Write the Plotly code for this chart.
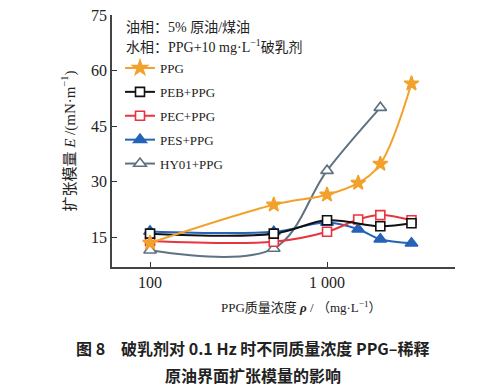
import plotly.graph_objects as go

# ---- data ----
x_ppg = [100, 500, 1000, 1500, 2000, 3000]
y_ppg = [13.5, 23.8, 26.5, 29.7, 34.8, 56.5]

x_peb = [100, 500, 1000, 2000, 3000]
y_peb = [16.0, 16.0, 19.6, 18.0, 18.8]

x_pec = [100, 500, 1000, 1500, 2000, 3000]
y_pec = [14.0, 13.8, 16.5, 19.8, 21.0, 19.6]

x_pes = [100, 500, 1000, 1500, 2000, 3000]
y_pes = [16.6, 16.5, 19.0, 17.2, 14.5, 13.4]

x_hy = [100, 500, 1000, 2000]
y_hy = [11.5, 12.0, 33.0, 50.0]

x_tickvals = [100, 1000]
x_ticktext = ["100", "1 000"]
y_tickvals = [15, 30, 45, 60, 75]

FONT = "Liberation Serif, Noto Sans CJK SC, serif"
CJK = "Noto Sans CJK SC, Liberation Serif"

# plot area in pixels
W, H = 491, 388
L, R, T, B = 112, 455, 15, 267


def px(x):
    return (x - L) / (R - L)


def py(y):
    return (B - y) / (B - T)


fig = go.Figure()

# drawing order (bottom first); legendrank keeps the legend order
series = [
    ("HY01+PPG", x_hy, y_hy, "#5E7282", "triangle-up", 11, "white", 1.0, 5),
    ("PES+PPG", x_pes, y_pes, "#2563B8", "triangle-up", 11, "#2563B8", 1.0, 4),
    ("PEC+PPG", x_pec, y_pec, "#E8343F", "square", 9, "white", 1.0, 3),
    ("PEB+PPG", x_peb, y_peb, "#111111", "square", 9, "white", 1.0, 2),
    ("PPG", x_ppg, y_ppg, "#F2A12B", "star", 11, "#F2A12B", 1.0, 1),
]

for name, xs, ys, col, sym, sz, fill, sm, rank in series:
    fig.add_trace(go.Scatter(
        x=xs, y=ys, name=name, mode="lines+markers",
        line=dict(color=col, width=2, shape="spline", smoothing=sm),
        marker=dict(symbol=sym, size=sz, color=fill,
                    line=dict(color=col, width=1.6)),
        legendgroup=name, legendrank=rank,
    ))

fig.update_layout(
    width=W, height=H,
    margin=dict(l=L, r=W - R, t=T, b=H - B, autoexpand=False),
    paper_bgcolor="white", plot_bgcolor="white",
    font=dict(family=FONT, size=14, color="#222"),
    showlegend=True,
    legend=dict(x=px(120), y=py(53), xanchor="left", yanchor="top",
                bgcolor="rgba(0,0,0,0)", font=dict(family=FONT, size=13, color="#222"),
                tracegroupgap=4, itemwidth=30, traceorder="grouped"),
    xaxis=dict(type="log", range=[1.785, 3.723], tickvals=x_tickvals, ticktext=x_ticktext,
               ticks="inside", ticklen=5, tickcolor="#333", showline=True, linecolor="#444",
               linewidth=1.5, showgrid=False, zeroline=False, automargin=False,
               tickfont=dict(family=FONT, size=16, color="#222")),
    yaxis=dict(range=[7, 75], tickvals=y_tickvals, ticks="inside", ticklen=5,
               tickcolor="#333", showline=True, linecolor="#444", linewidth=1.5,
               showgrid=False, zeroline=False, automargin=False,
               tickfont=dict(family=FONT, size=16, color="#222"),
               title=dict(text="扩张模量 <i>E</i> /(mN·m<sup>−1</sup>)",
                          font=dict(family=FONT, size=15, color="#222"), standoff=12)),
)

annos = [
    (124, 27, "油相：5% 原油/煤油", 14, "left"),
    (124, 46, "水相：PPG+10 mg·L<sup>−1</sup>破乳剂", 14, "left"),
]
for xx, yy, t, s, anc in annos:
    fig.add_annotation(x=px(xx), y=py(yy), xref="paper", yref="paper", text=t,
                       showarrow=False, xanchor=anc, yanchor="middle",
                       font=dict(family=FONT, size=s, color="#222"))

fig.add_annotation(x=px(301), y=py(307), xref="paper", yref="paper",
                   text="PPG质量浓度 <b><i>ρ</i></b> / （mg·L<sup>−1</sup>）",
                   showarrow=False, xanchor="center", yanchor="middle",
                   font=dict(family=FONT, size=13, color="#222"))
fig.add_annotation(x=px(253), y=py(348), xref="paper", yref="paper",
                   text="<b>图 8　破乳剂对 0.1 Hz 时不同质量浓度 PPG–稀释</b>",
                   showarrow=False, xanchor="center", yanchor="middle",
                   font=dict(family=CJK, size=16, color="#222"))
fig.add_annotation(x=px(253), y=py(375), xref="paper", yref="paper",
                   text="<b>原油界面扩张模量的影响</b>",
                   showarrow=False, xanchor="center", yanchor="middle",
                   font=dict(family=CJK, size=16, color="#222"))

fig.write_html("out.html", config={"displayModeBar": False},
               post_script="document.body.style.margin='0';document.body.style.padding='0';")
